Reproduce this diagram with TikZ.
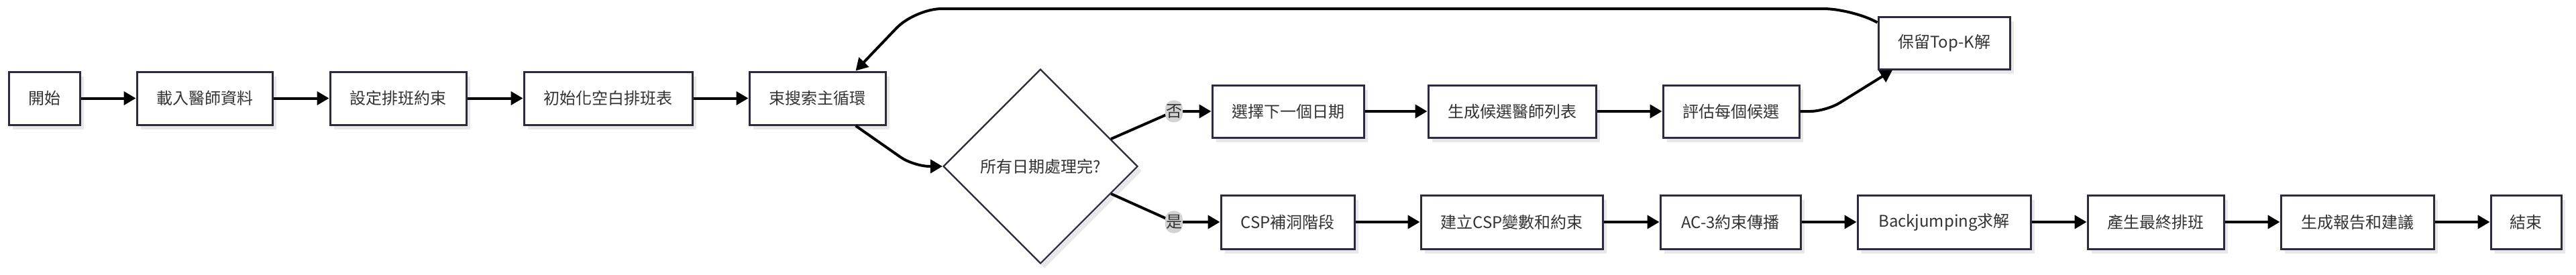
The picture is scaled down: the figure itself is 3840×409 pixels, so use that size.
\documentclass[tikz,border=0pt]{standalone}
\usepackage{fontspec}
\setmainfont{Noto Sans CJK TC}
\usetikzlibrary{arrows.meta,shapes.geometric,shadows,calc}
\definecolor{bordc}{HTML}{2B2B3D}
\definecolor{txtc}{HTML}{333333}
\definecolor{shadc}{HTML}{E8E8E8}
\definecolor{lblc}{HTML}{D3D3D3}
\begin{document}
\begin{tikzpicture}[x=0.5pt,y=-0.5pt,
  box/.style={draw=bordc, line width=1.5pt, fill=white, text=txtc,
    font=\fontsize{12pt}{14pt}\selectfont, inner sep=0pt,
    drop shadow={shadow xshift=3pt,shadow yshift=-3.5pt,fill=shadc,opacity=1}},
  dec/.style={diamond, aspect=1, draw=bordc, line width=1.1pt, fill=white, text=txtc,
    font=\fontsize{12pt}{14pt}\selectfont, inner sep=0pt,
    minimum width=145pt, minimum height=145pt,
    drop shadow={shadow xshift=3pt,shadow yshift=-3.5pt,fill=shadc,opacity=1}},
  arr/.style={draw=black, line width=2pt, -{Triangle[length=9pt,width=10pt]}},
  lbl/.style={fill=lblc, text=txtc, font=\fontsize{12pt}{14pt}\selectfont,
    inner xsep=0.5pt, inner ysep=3pt}
]
\useasboundingbox (0,0) rectangle (3840,409);
\fill[white] (0,0) rectangle (3840,409);

% top row
\node[box, minimum width=53pt, minimum height=39.5pt] (start) at (66,146.5) {開始};
\node[box, minimum width=101pt, minimum height=39.5pt] (load) at (305,146.5) {載入醫師資料};
\node[box, minimum width=101.5pt, minimum height=39.5pt] (setc) at (593.5,146.5) {設定排班約束};
\node[box, minimum width=125.5pt, minimum height=39.5pt] (init) at (906.5,146.5) {初始化空白排班表};
\node[box, minimum width=101.5pt, minimum height=39.5pt] (beam) at (1218.5,146.5) {束搜索主循環};

% decision
\node[dec] (dia) at (1551,248) {所有日期處理完?};

% no branch
\node[box, minimum width=113pt, minimum height=39pt] (sel) at (1920,166) {選擇下一個日期};
\node[box, minimum width=125pt, minimum height=39pt] (gen) at (2254,166) {生成候選醫師列表};
\node[box, minimum width=101.5pt, minimum height=39pt] (eval) at (2580.5,166) {評估每個候選};
\node[box, minimum width=98pt, minimum height=39pt] (keep) at (2898,64) {保留Top-K解};

% yes branch
\node[box, minimum width=99.5pt, minimum height=40pt] (csp) at (1919.5,331) {CSP補洞階段};
\node[box, minimum width=135.5pt, minimum height=40pt] (build) at (2253.5,331) {建立CSP變數和約束};
\node[box, minimum width=104.5pt, minimum height=40pt] (ac3) at (2579.5,331) {AC-3約束傳播};
\node[box, minimum width=129pt, minimum height=40pt] (bj) at (2898,331) {Backjumping求解};
\node[box, minimum width=101.5pt, minimum height=40pt] (final) at (3213.5,331) {產生最終排班};
\node[box, minimum width=114pt, minimum height=40pt] (report) at (3514,331) {生成報告和建議};
\node[box, minimum width=52.5pt, minimum height=40pt] (end) at (3765.5,331) {結束};

% connectors
\draw[arr] (start) -- (load);
\draw[arr] (load) -- (setc);
\draw[arr] (setc) -- (init);
\draw[arr] (init) -- (beam);
\draw[arr, rounded corners=12pt] ([xshift=28.5pt]beam.south) -- (1362,248) -- (dia.west);

\draw[arr, rounded corners=6pt] ($(dia.north)!0.72!(dia.east)$) -- (1750,166) node[lbl] {否} -- (sel.west);
\draw[arr] (sel) -- (gen);
\draw[arr] (gen) -- (eval);
\draw[arr, rounded corners=12pt] (eval.east) -- (2722,166) -- ([xshift=-38.5pt]keep.south);
\draw[arr, rounded corners=20pt] ([yshift=-5pt]keep.north west) -- (2758,13) -- (1364,13) -- ([xshift=28.5pt]beam.north);

\draw[arr, rounded corners=6pt] ($(dia.south)!0.72!(dia.east)$) -- (1750,331) node[lbl] {是} -- (csp.west);
\draw[arr] (csp) -- (build);
\draw[arr] (build) -- (ac3);
\draw[arr] (ac3) -- (bj);
\draw[arr] (bj) -- (final);
\draw[arr] (final) -- (report);
\draw[arr] (report) -- (end);
\end{tikzpicture}
\end{document}
